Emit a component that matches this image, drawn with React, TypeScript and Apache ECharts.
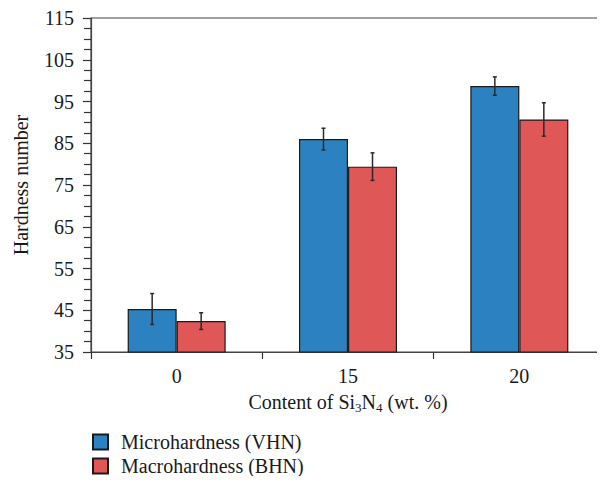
import React, { useEffect, useRef } from "react";
import * as echarts from "echarts";

const categories = ["0", "15", "20"];
const microValues = [45.3, 86.0, 98.7];
const microErrors = [3.7, 2.6, 2.2];
const macroValues = [42.4, 79.4, 90.7];
const macroErrors = [2.0, 3.3, 4.0];
const seriesNames = ["Microhardness (VHN)", "Macrohardness (BHN)"];

const FONT = "'Liberation Serif', 'DejaVu Serif', serif";
const FS = 20;
const BAR_W = 49;

export default function App() {
  const ref = useRef<HTMLDivElement>(null);
  useEffect(() => {
    if (!ref.current) return;
    const chart = echarts.init(ref.current, null, { renderer: "svg" });
    const errData: number[][] = [];
    microValues.forEach((v, i) => errData.push([i, v - microErrors[i], v + microErrors[i], -1]));
    macroValues.forEach((v, i) => errData.push([i, v - macroErrors[i], v + macroErrors[i], 1]));

    chart.setOption({
      animation: false,
      textStyle: { fontFamily: FONT, color: "#1a1a1a" },
      grid: {
        left: 91,
        right: -8,
        top: 18,
        bottom: 132,
        show: true,
        borderColor: "#444",
        borderWidth: 1.2,
      },
      legend: {
        orient: "vertical",
        left: 92,
        top: 432,
        padding: 0,
        icon: "rect",
        itemWidth: 15,
        itemHeight: 15,
        itemGap: 4,
        data: seriesNames,
        textStyle: { fontFamily: FONT, fontSize: FS, color: "#1a1a1a", padding: [0, 0, 0, 8] },
      },
      xAxis: {
        type: "category",
        data: categories,
        boundaryGap: true,
        name: "{n|Content of Si}{s|3}{n|N}{s|4}{n| (wt. %)}",
        nameLocation: "middle",
        nameGap: 40,
        nameTextStyle: {
          fontFamily: FONT,
          fontSize: FS,
          color: "#1a1a1a",
          rich: {
            n: { fontFamily: FONT, fontSize: FS, color: "#1a1a1a", lineHeight: 20, verticalAlign: "top" },
            s: { fontFamily: FONT, fontSize: 13, color: "#1a1a1a", lineHeight: 14, verticalAlign: "top", padding: [9, 0, 0, 0] },
          },
        },
        axisLine: { lineStyle: { color: "#444", width: 1.2 } },
        axisTick: { show: true, alignWithLabel: false, length: 7, lineStyle: { color: "#333", width: 1.2 } },
        axisLabel: { fontFamily: FONT, fontSize: FS, color: "#1a1a1a", margin: 14 },
      },
      yAxis: {
        type: "value",
        min: 35,
        max: 115,
        interval: 10,
        name: "Hardness number",
        nameLocation: "middle",
        nameGap: 60,
        nameTextStyle: { fontFamily: FONT, fontSize: FS, color: "#1a1a1a" },
        axisLine: { show: true, lineStyle: { color: "#444", width: 1.2 } },
        axisTick: { show: true, length: 8, lineStyle: { color: "#333", width: 1.2 } },
        minorTick: { show: true, splitNumber: 4, length: 7, lineStyle: { color: "#333", width: 1.2 } },
        splitLine: { show: false },
        axisLabel: { fontFamily: FONT, fontSize: FS, color: "#1a1a1a", margin: 17 },
      },
      series: [
        {
          name: seriesNames[0],
          type: "bar",
          data: microValues,
          barWidth: BAR_W,
          barGap: "0%",
          itemStyle: { color: "#2c82c0", borderColor: "#1a1a1a", borderWidth: 1.2 },
        },
        {
          name: seriesNames[1],
          type: "bar",
          data: macroValues,
          barWidth: BAR_W,
          barGap: "0%",
          itemStyle: { color: "#e05758", borderColor: "#1a1a1a", borderWidth: 1.2 },
        },
        {
          type: "custom",
          data: errData,
          z: 10,
          renderItem: (params: any, api: any) => {
            const idx = api.value(0);
            const lo = api.coord([idx, api.value(1)]);
            const hi = api.coord([idx, api.value(2)]);
            const side = api.value(3);
            const x = lo[0] + side * (BAR_W / 2);
            const cap = 2;
            const style = { stroke: "#2a2a2a", lineWidth: 1.5, fill: "none" };
            return {
              type: "group",
              children: [
                { type: "line", shape: { x1: x, y1: lo[1], x2: x, y2: hi[1] }, style },
                { type: "line", shape: { x1: x - cap, y1: lo[1], x2: x + cap, y2: lo[1] }, style },
                { type: "line", shape: { x1: x - cap, y1: hi[1], x2: x + cap, y2: hi[1] }, style },
              ],
            };
          },
        },
      ],
    });
    return () => chart.dispose();
  }, []);
  return <div ref={ref} style={{ width: 605, height: 484, margin: -8 }} />;
}
